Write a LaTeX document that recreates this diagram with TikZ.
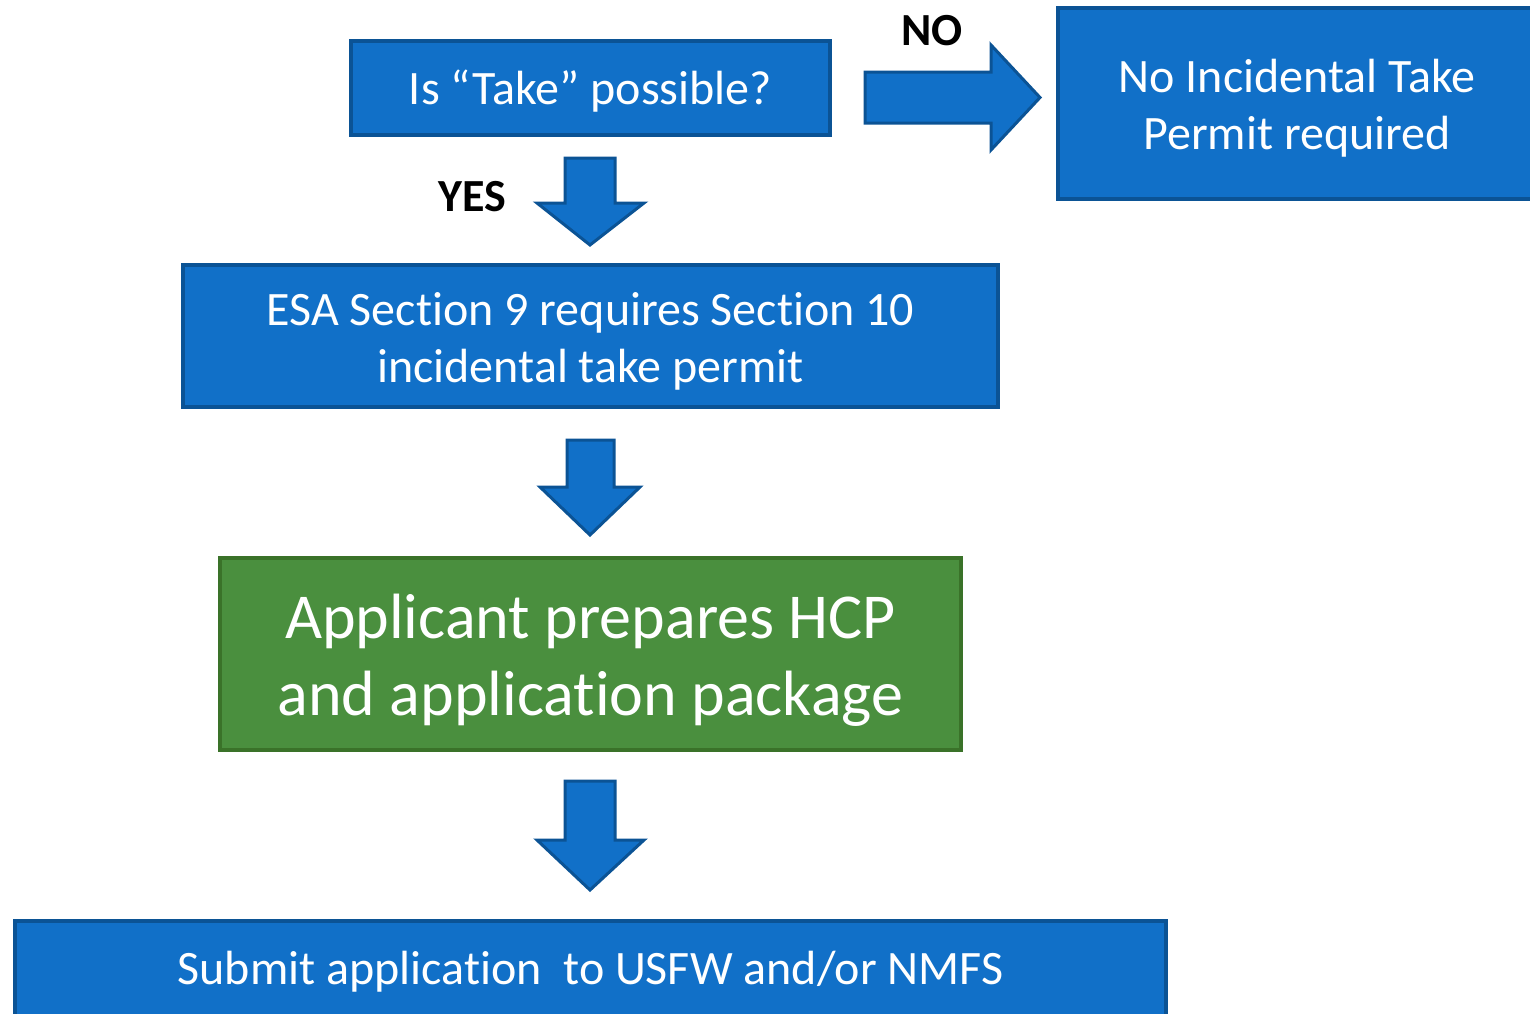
\documentclass[tikz,border=0pt]{standalone}
\usepackage{fontspec}
\setmainfont[Ligatures=CommonOff]{Carlito}
\definecolor{bfill}{HTML}{1170C8}
\definecolor{bline}{HTML}{0B5395}
\definecolor{gfill}{HTML}{4A8F3E}
\definecolor{gline}{HTML}{3A7229}
\begin{document}
\begin{tikzpicture}[x=1pt,y=-1pt,
  bluebox/.style={draw=bline,fill=bfill,line width=4pt,inner sep=0pt},
  greenbox/.style={draw=gline,fill=gfill,line width=4pt,inner sep=0pt},
  btext/.style={inner sep=0pt,text=white,align=center,font=\fontsize{48}{57}\selectfont},
  gtext/.style={inner sep=0pt,text=white,align=center,font=\fontsize{64}{77}\selectfont},
  blockarrow/.style={draw=bline,fill=bfill,line width=3pt,line join=miter},
  lbl/.style={font=\fontsize{46}{56}\selectfont\bfseries,text=black,inner sep=0pt}]
\useasboundingbox (0,0) rectangle (1530,1013);
\clip (0,0) rectangle (1530,1013);
\node[bluebox,minimum width=479pt,minimum height=94pt] (take) at (590.5,88) {};
\node[btext] (taket) at ([yshift=-3pt]take.center) {Is “Take” possible?};
\node[bluebox,minimum width=478pt,minimum height=191pt] (nopermit) at (1297,103.5) {};
\node[btext] (nopermitt) at ([yshift=-5pt]nopermit.center) {No Incidental Take\\Permit required};
\node[bluebox,minimum width=815pt,minimum height=142pt] (esa) at (590.5,336) {};
\node[btext] (esat) at ([yshift=-5pt]esa.center) {ESA Section 9 requires Section 10\\incidental take permit};
\node[greenbox,minimum width=741pt,minimum height=192pt] (hcp) at (590.5,654) {};
\node[gtext] (hcpt) at ([yshift=-6pt]hcp.center) {Applicant prepares HCP\\and application package};
\node[bluebox,minimum width=1151pt,minimum height=96pt] (submit) at (590.5,969) {};
\node[btext] (submitt) at ([yshift=-3pt]submit.center) {Submit application\ \ to USFW and/or NMFS};
% block arrows
\draw[blockarrow] (865,72) -- (991,72) -- (991,45) -- (1040,97.5) -- (991,150) -- (991,123) -- (865,123) -- cycle;
\draw[blockarrow] (565,158) -- (615,158) -- (615,203) -- (644,203) -- (590,245) -- (537,203) -- (565,203) -- cycle;
\draw[blockarrow] (567,440) -- (614,440) -- (614,487) -- (640,487) -- (590,535) -- (540,487) -- (567,487) -- cycle;
\draw[blockarrow] (565,781) -- (615,781) -- (615,840) -- (644,840) -- (590,890) -- (537,840) -- (565,840) -- cycle;
\node[lbl] (no) at (932,31) {NO};
\node[lbl] (yes) at (472,197) {YES};
\end{tikzpicture}
\end{document}
